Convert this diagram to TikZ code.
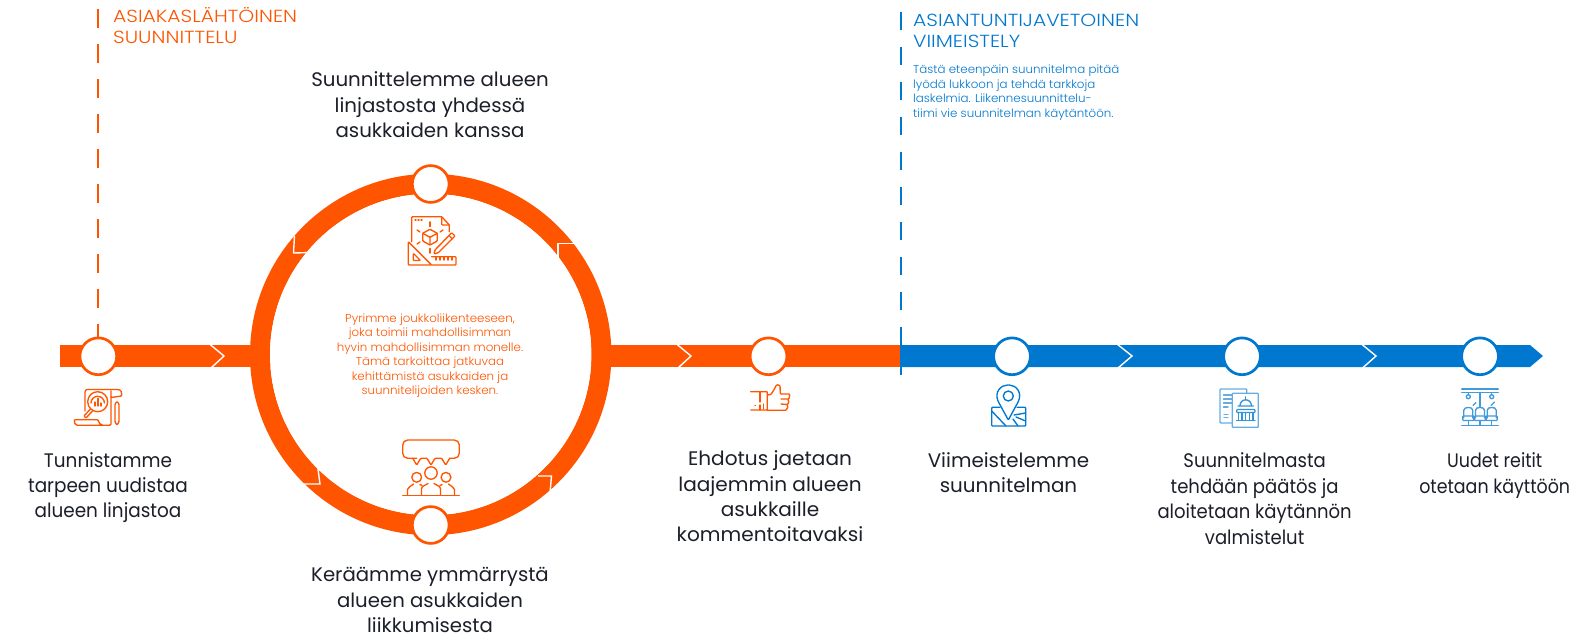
\documentclass[tikz,border=0pt]{standalone}
\usepackage{fontspec}
\setmainfont{Poppins}
\newfontfamily\lightfont{Poppins}[UprightFont=* Light]
\definecolor{org}{HTML}{FF5500}
\definecolor{blu}{HTML}{0078CF}
\definecolor{txt}{HTML}{1C1F2A}
\tikzset{
  stop/.style={circle,draw=#1,line width=2.7pt,fill=white,minimum size=36.8pt,inner sep=0pt},
  chev/.style={draw=white,line width=1.4pt,line join=miter},
  ico/.style={draw=#1,line width=1.35pt,line join=round,line cap=round,rounded corners=0.8pt},
  lab/.style={text=txt,align=center,inner sep=0pt,font=\fontsize{19.6}{25.4}\selectfont\addfontfeature{FakeStretch=#1}},
  head/.style={text=#1,align=left,anchor=west,inner sep=0pt,font=\lightfont\fontsize{17.5}{21}\selectfont\addfontfeature{FakeStretch=1.16}},
  small/.style={text=#1,inner sep=0pt,font=\lightfont\fontsize{11.5}{14.5}\selectfont\addfontfeature{FakeStretch=1.03}}
}
\begin{document}
\begin{tikzpicture}[x=1pt,y=-1pt]
\useasboundingbox (0,0) rectangle (1575,637);
\fill[white] (0,0) rectangle (1575,637);
% named points for the dashed guides
\coordinate (otop) at (97.8,9);
\coordinate (btop) at (900.8,12);
\coordinate (bbot) at (900.8,375);
% bars
\fill[org] (60,345) rectangle (900,367);
\fill[blu] (900,345) -- (1530,345) -- (1543,356) -- (1530,367) -- (900,367) -- cycle;
% big ring
\draw[org,line width=20pt] (430.7,354.5) circle (170.7);
\fill[white] (430.7,354.5) circle (160.7);
% guides
\draw[org,line width=2pt,dash pattern=on 18.7pt off 16.3pt] (otop) -- (97.8,340);
\draw[blu,line width=2pt,dash pattern=on 18pt off 17pt] (btop) -- (bbot);
% bar chevrons
\draw[chev] (209.5,344) -- (224,356) -- (211,368);
\draw[chev] (676.5,344) -- (691,356) -- (678,368);
\draw[chev] (1117,344) -- (1132,356) -- (1118,368);
\draw[chev] (1361.5,344) -- (1376,356) -- (1362.5,368);
% ring chevrons
\draw[chev] (294.5,236) -- (293.5,253) -- (311,252.5);
\draw[chev] (558,261) -- (558,243.5) -- (574,243.5);
\draw[chev] (538,476) -- (551.5,476) -- (550,493);
\draw[chev] (318,469) -- (320,484) -- (301,484);
% stops
\node[stop=org] (s1) at (98.3,356.3) {};
\node[stop=org] (s2) at (430.7,184) {};
\node[stop=org] (s3) at (430.7,525) {};
\node[stop=org] (s4) at (768.5,356.3) {};
\node[stop=blu] (s5) at (1012,356.3) {};
\node[stop=blu] (s6) at (1242,356.3) {};
\node[stop=blu] (s7) at (1480,356.3) {};
% --- icon: scroll
\begin{scope}[ico=org]
\draw (85,411) -- (85,393) .. controls (85,390.5) and (86,389.5) .. (88,389.5) -- (117,389.5) .. controls (121,389.5) and (122.5,393) .. (121.5,396) -- (111,397.5) -- (111,391);
\draw (111,397) -- (111,423) .. controls (111,425) and (110,425.3) .. (108,425.3) -- (78,425.3) .. controls (75,425.3) and (74,422) .. (74.5,419.7) -- (98,419.7) .. controls (99,423) and (100,425) .. (103,425.3);
\draw (115,404) -- (117,401.5) -- (119,404) -- (119,422) -- (117,425) -- (115,422) -- cycle;
\draw (97.7,401.7) circle (10);
\draw (90.5,409) -- (84,416) -- (86,418) -- (92.5,411);
\draw (91,403) arc[start angle=180,end angle=360,radius=6.7];
\draw (95,406) -- (95,402) (98,406) -- (98,398.5) (101,406) -- (101,403);
\end{scope}
% --- icon: design
\begin{scope}[ico=org]
\draw (411.7,241.7) -- (411.7,216.7) -- (441.7,216.7) -- (449.3,225) -- (449.3,231.7);
\draw (441.7,216.7) -- (441.7,225) -- (449.3,225);
\draw (415,220) -- (416,220) (418,220) -- (419,220) (421,220) -- (422,220);
\draw (430,229.3) -- (437.3,233.3) -- (437.3,241) -- (430,245) -- (422.7,241) -- (422.7,233.3) -- cycle;
\draw (422.7,233.3) -- (430,237.3) -- (437.3,233.3) (430,237.3) -- (430,245);
\draw[line width=1.8pt] (430,222) -- (430,226.5) (430,248.5) -- (430,253);
\draw (417,230) -- (420,232) (417,244) -- (420,242) (443,230) -- (440,232);
\draw (408.3,241.7) -- (431.7,265) -- (408.3,265) -- cycle;
\draw (413.3,253.3) -- (413.3,260.5) -- (420.5,260.5) -- cycle;
\draw (431.7,256.7) -- (456,256.7) -- (456,265) -- (431.7,265);
\draw (436,256.7) -- (436,260) (440,256.7) -- (440,260) (444,256.7) -- (444,260) (448,256.7) -- (448,260) (452,256.7) -- (452,260);
\draw (435,250) -- (451.7,232.7) -- (455,236) -- (438.3,252.7) -- (434,254) -- cycle;
\draw (449,235.5) -- (452.5,239);
\end{scope}
% --- icon: people
\begin{scope}[ico=org]
\draw[rounded corners=5pt] (416.7,458.3) -- (402.7,458.3) -- (402.7,440) -- (459.3,440) -- (459.3,458.3) -- (449.7,458.3);
\draw (449.7,458.3) -- (445.7,465) -- (441.7,458.3) -- (435,458.3) -- (431,465) -- (427,458.3) -- (420.7,458.3) -- (416.7,465) -- (412.7,458.3);
\draw (431,473) circle (6.2);
\draw (416.7,477.3) circle (4.9);
\draw (446,477.3) circle (4.9);
\draw (402.7,495.5) -- (459.3,495.5);
\draw (421.5,495.5) -- (421.5,489) .. controls (422,486) and (426,485) .. (428,483.5) (434,483.5) .. controls (436,485) and (440,486) .. (440.5,489) -- (440.5,495.5);
\draw (407.5,495.5) -- (407.5,490) .. controls (408,487) and (411,486.5) .. (413.5,484) (420,484.5) -- (422,485.5);
\draw (454.5,495.5) -- (454.5,490) .. controls (454,487) and (451,486.5) .. (448.5,484) (442,484.5) -- (440,485.5);
\end{scope}
% --- icon: thumb
\begin{scope}[ico=org]
\draw (750.7,391.7) -- (767.3,391.7) -- (767.3,410) -- (750.7,410);
\draw (760,392) -- (760,402) (760,405) -- (760,410) (763.5,404) -- (763.5,409);
\draw (755,405.5) -- (755.5,405.5);
\draw (767.3,395) -- (771,394.5) -- (775,388) -- (776.5,384.7) -- (780,385.5) -- (780.3,394) -- (789.8,394) -- (789,399) -- (787.5,399) -- (789,402) -- (787,405) -- (788,407) -- (786,410.3) -- (767.3,410.3);
\draw (781,399) -- (787.5,399) (781,404) -- (787,404.5);
\end{scope}
% --- icon: map pin
\begin{scope}[ico=blu]
\draw (1008.3,420) -- (998.5,402) .. controls (994,392) and (1001,385) .. (1008.3,385) .. controls (1015.6,385) and (1022.6,392) .. (1018.1,402) -- cycle;
\draw (1008.3,396) circle (5);
\draw (1000,407.3) -- (991.7,407.3) -- (991.7,426) -- (1025.7,426) -- (1025.7,407.3) -- (1017,407.3);
\draw (991.7,411) -- (1006,426) (1014,415) -- (1025.7,413) (1013,419) -- (1018,426) (1016,417) -- (1025.7,421);
\end{scope}
% --- icon: document
\begin{scope}[ico=blu!60!white]
\draw (1232.3,423) -- (1220,423) -- (1220,389) -- (1246.7,389) -- (1246.7,393.3);
\draw (1232.3,393.3) rectangle (1258.3,427.3);
\draw (1223.5,395) -- (1232,395) (1223.5,399) -- (1232,399) (1223.5,403) -- (1232,403) (1223.5,407) -- (1228,407) (1224,414.5) -- (1228,414.5) (1224,417.5) -- (1228,417.5);
\end{scope}
\begin{scope}[ico=blu!80!white]
\draw (1240,405.5) arc[start angle=180,end angle=360,radius=5.7];
\draw (1245.7,399.5) -- (1245.7,396.8);
\draw (1238,406) -- (1253.4,406) (1236.7,409.5) -- (1255,409.5) -- (1255,412.5) -- (1236.7,412.5) -- cycle;
\draw (1236.5,420.5) -- (1255,420.5) (1238.5,413) -- (1238.5,420) (1242,413) -- (1242,420) (1245.7,413) -- (1245.7,420) (1249.4,413) -- (1249.4,420) (1253,413) -- (1253,420);
\end{scope}
% --- icon: seats
\begin{scope}[ico=blu!75!white]
\draw (1461.7,389) -- (1498.3,389) (1461.7,392.7) -- (1498.3,392.7);
\draw (1480,392.7) -- (1480,407);
\draw (1468.3,392.7) -- (1468.3,394.7) (1491.7,392.7) -- (1491.7,394.7);
\draw (1468.3,396.7) circle (2) (1491.7,396.7) circle (2);
\draw (1473,405.5) -- (1476,402.5) (1491,405.5) -- (1494.5,402);
\foreach \sx in {1468.3,1480,1491.7} {
  \draw (\sx-4.5,418) -- (\sx-4.5,411) .. controls (\sx-4.5,406.5) and (\sx+4.5,406.5) .. (\sx+4.5,411) -- (\sx+4.5,418);
  \draw (\sx-5.6,416) -- (\sx+5.6,416) -- (\sx+5.6,420.5) -- (\sx-5.6,420.5) -- cycle;
  \draw (\sx,420.5) -- (\sx,425);
}
\draw (1461.7,425.3) -- (1498.3,425.3);
\end{scope}
% texts
\node[head=org] (h1) at (113,26) {ASIAKASLÄHTÖINEN\\SUUNNITTELU};
\node[head=blu] (h2) at (913,30.5) {ASIANTUNTIJAVETOINEN\\VIIMEISTELY};
\node[small=blu,align=left,anchor=west] (p2) at (913,92.5) {Tästä eteenpäin suunnitelma pitää\\lyödä lukkoon ja tehdä tarkkoja\\laskelmia. Liikennesuunnittelu-\\tiimi vie suunnitelman käytäntöön.};
\node[small=org,align=center] (p1) at (430,355.5) {Pyrimme joukkoliikenteeseen,\\joka toimii mahdollisimman\\hyvin mahdollisimman monelle.\\Tämä tarkoittaa jatkuvaa\\kehittämistä asukkaiden ja\\suunnitelijoiden kesken.};
\node[lab=0.94] (t1) at (108,487.5) {Tunnistamme\\tarpeen uudistaa\\alueen linjastoa};
\node[lab=1.01] (t2) at (430,105) {Suunnittelemme alueen\\linjastosta yhdessä\\asukkaiden kanssa};
\node[lab=1.005] (t3) at (430,600) {Keräämme ymmärrystä\\alueen asukkaiden\\liikkumisesta};
\node[lab=1.025] (t4) at (770,496.5) {Ehdotus jaetaan\\laajemmin alueen\\asukkaille\\kommentoitavaksi};
\node[lab=1.015] (t5) at (1008.5,472.6) {Viimeistelemme\\suunnitelman};
\node[lab=0.92] (t6) at (1254.6,498.7) {Suunnitelmasta\\tehdään päätös ja\\aloitetaan käytännön\\valmistelut};
\node[lab=0.89] (t7) at (1494.7,475.6) {Uudet reitit\\otetaan käyttöön};
\end{tikzpicture}
\end{document}
